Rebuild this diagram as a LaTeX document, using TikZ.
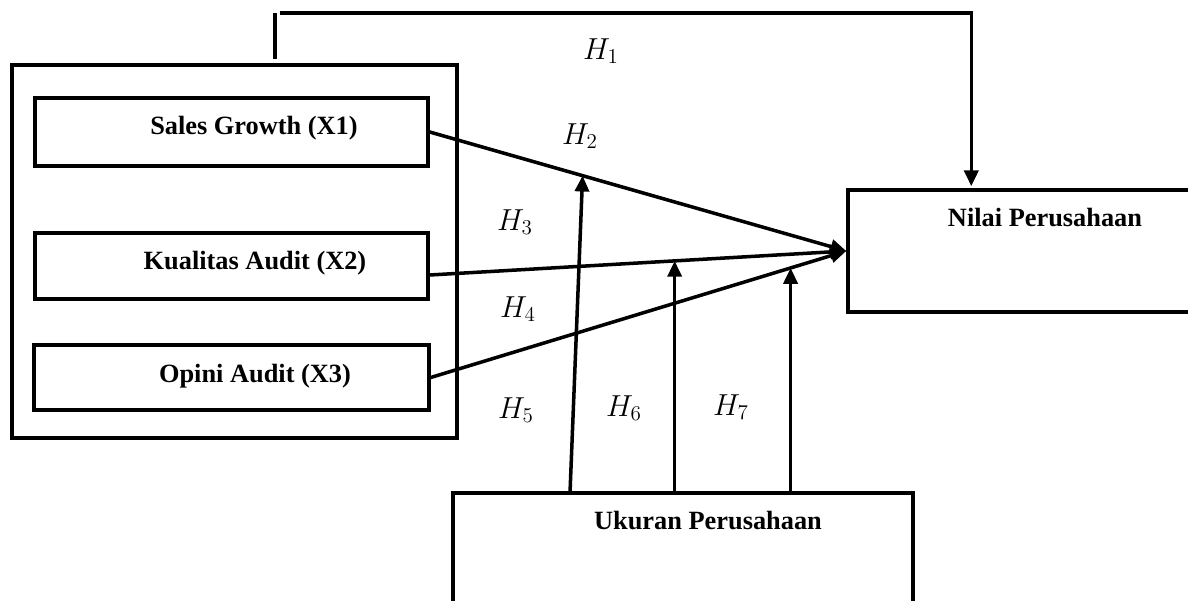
\documentclass[tikz,border=0pt]{standalone}
\usepackage{fontspec}
\setmainfont{Liberation Serif}
\usetikzlibrary{arrows.meta,calc}
\tikzset{
  box/.style={draw, line width=2pt, inner sep=0pt},
  txt/.style={font=\fontsize{15}{18}\selectfont\bfseries, inner sep=0pt},
  hyp/.style={font=\fontsize{17}{20}\selectfont, inner sep=0pt},
  arr/.style={line width=2pt, -{Triangle[length=9pt,width=8pt]}}
}
\begin{document}
\begin{tikzpicture}[x=0.02cm,y=-0.02cm]
    \useasboundingbox (0,0) rectangle (1188,601);
    \clip (0,0) rectangle (1188,601);
    % kotak variabel
    \node [box, minimum width=8.9cm, minimum height=7.46cm] (outer) at (234.5,251.5) {};
    \node [box, minimum width=7.86cm, minimum height=1.36cm] (sg) at (231.5,132) {};
    \node [box, minimum width=7.86cm, minimum height=1.32cm] (ka) at (231.5,266) {};
    \node [box, minimum width=7.9cm, minimum height=1.3cm] (ox) at (231.5,377.5) {};
    \node [box, minimum width=8.04cm, minimum height=2.44cm] (nilai) at (1049,251) {};
    \node [box, minimum width=9.2cm, minimum height=4.14cm] (ukuran) at (683,596.5) {};
    \node [txt] (sgt) at (254,128) {Sales Growth (X1)};
    \node [txt] (kat) at (255,263) {Kualitas Audit (X2)};
    \node [txt] (oxt) at (255,376) {Opini Audit (X3)};
    \node [txt] (nilait) at (1045,218) {Nilai Perusahaan};
    \node [txt] (ukurant) at (708,521) {Ukuran Perusahaan};
    % H1
    \coordinate (h1s) at (275,59);
    \draw [line width=2pt] (h1s) -- (275,13);
    \draw [arr] (280,13) -| ($(nilai.north west)+(125,-2)$);
    % pengaruh langsung
    \coordinate (ka0) at ($(ka.east)+(0,9)$);
    \draw [arr] (sg.east) -- (nilai.west);
    \draw [arr] (ka0) -- (nilai.west);
    \draw [arr] (ox.east) -- (nilai.west);
    % moderasi
    \coordinate (m1) at ($(sg.east)!0.367!(nilai.west)$);
    \coordinate (m2) at ($(ka0)!0.588!(nilai.west)$);
    \coordinate (m3) at ($(ox.east)!0.866!(nilai.west)$);
    \draw [arr] (570,493) -- (m1);
    \draw [arr] (m2 |- ukuran.north) -- (m2);
    \draw [arr] (m3 |- ukuran.north) -- (m3);
    % label hipotesis
    \node [hyp] (h1) at (601,51) {$H_1$};
    \node [hyp] (h2) at (580,136) {$H_2$};
    \node [hyp] (h3) at (515,222) {$H_3$};
    \node [hyp] (h4) at (518,309) {$H_4$};
    \node [hyp] (h5) at (516,410) {$H_5$};
    \node [hyp] (h6) at (624,408) {$H_6$};
    \node [hyp] (h7) at (731,407) {$H_7$};
\end{tikzpicture}
\end{document}
